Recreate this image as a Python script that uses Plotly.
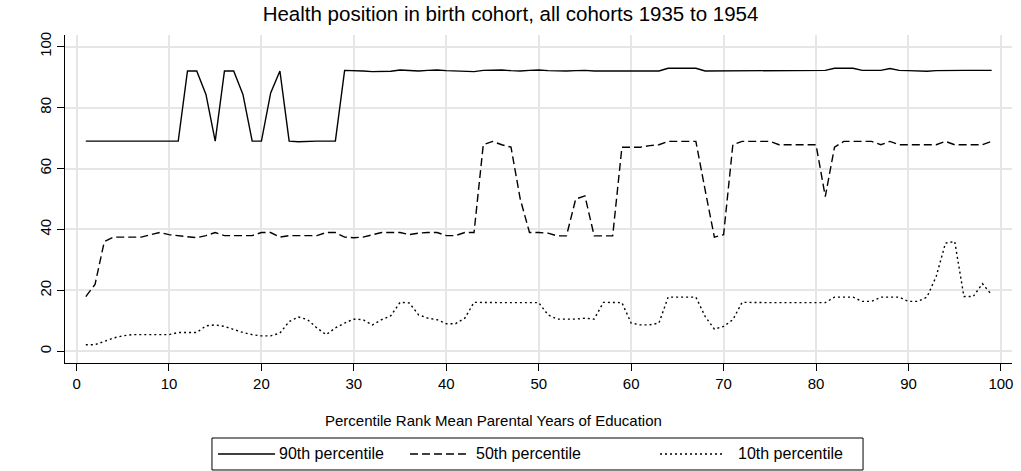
import plotly.graph_objects as go

# ---- data ----
rank = list(range(1, 100))

p90 = [69, 69, 69, 69, 69, 69, 69, 69, 69, 69,
       69, 92, 92, 84.3, 69, 92, 92, 84.3, 69, 69,
       84.8, 92, 69, 68.8, 69, 69, 69, 69, 92.2, 92.2,
       92, 91.8, 91.8, 91.9, 92.3, 92.1, 92, 92.2, 92.3, 92.1,
       92, 91.9, 91.8, 92.2, 92.3, 92.3, 92.1, 92, 92.2, 92.3,
       92.1, 92, 92, 92.1, 92.2, 92, 92, 91.9, 91.8, 91.8,
       92, 92, 92, 92.9, 92.9, 92.9, 92.9, 92, 92, 92,
       92.1, 92.2, 92.2, 92.2, 92.1, 92, 92, 92, 92, 92,
       92.2, 92.9, 92.9, 92.9, 92.2, 92.2, 92.2, 92.8, 92.2, 92.1,
       91.9, 91.9, 92.1, 92.2, 92.2, 92.2, 92.2, 92.2, 92.2]

p50 = [18, 22, 36, 37.5, 37.5, 37.5, 37.5, 38.3, 39, 38.3,
       38, 37.5, 37.3, 38, 39, 38, 38, 38, 38, 39,
       39, 37.5, 38, 38, 38, 38, 39, 39, 37.5, 37.3,
       37.5, 38.2, 39, 39, 39, 38.3, 38.8, 39, 39, 38,
       38, 39, 39, 67.8, 68.9, 67.8, 67, 50, 39, 39,
       38.8, 37.9, 37.9, 50, 51, 37.9, 37.9, 37.9, 67, 67,
       67, 67.5, 67.8, 68.9, 68.9, 68.9, 68.9, 53, 37.5, 38.3,
       67.8, 68.9, 68.9, 68.9, 68.9, 67.8, 67.8, 67.8, 67.8, 67.8,
       50.8, 67, 68.9, 68.9, 68.9, 68.9, 67.8, 68.9, 67.8, 67.8,
       67.8, 67.8, 67.8, 68.9, 67.8, 67.8, 67.8, 67.8, 68.9]

p10 = [2.2, 2.2, 3.3, 4.4, 5.1, 5.5, 5.5, 5.5, 5.5, 5.5,
       6.2, 6.2, 6.2, 8.4, 8.7, 8.2, 7.1, 6.2, 5.5, 5.1,
       5.1, 6, 9.8, 11.3, 10.4, 7.7, 5.5, 7.7, 9.3, 10.6,
       10.4, 8.7, 10.4, 11.7, 16.1, 15.9, 12, 10.9, 10.4, 9.1,
       9.1, 10.9, 16.1, 16, 16, 16, 16, 16, 16, 16,
       12, 10.6, 10.6, 10.6, 10.9, 10.6, 16.1, 16.1, 16, 9.3,
       8.7, 8.7, 9.3, 17.8, 17.8, 17.8, 17.8, 11.5, 7.3, 8.2,
       10.4, 16.1, 16, 16, 16, 16, 16, 16, 16, 16,
       16, 17.8, 17.8, 17.8, 16.4, 16.4, 17.8, 17.8, 17.8, 16.4,
       16.4, 17.8, 24.6, 35.5, 36.1, 18, 18, 22.2, 18.6]

series_names = ["90th percentile", "50th percentile", "10th percentile"]
x_ticks = [0, 10, 20, 30, 40, 50, 60, 70, 80, 90, 100]
y_ticks = [0, 20, 40, 60, 80, 100]

title_text = "Health position in birth cohort, all cohorts 1935 to 1954"
xaxis_title = "Percentile Rank Mean Parental Years of Education"

# ---- styling ----
FONT = "Liberation Sans, Arial, Helvetica, sans-serif"
dashes = ["solid", "8px,4px", "2px,3px"]
LW = 1.4

fig = go.Figure()
for name, vals, dash in zip(series_names, [p90, p50, p10], dashes):
    fig.add_trace(go.Scatter(
        x=rank, y=vals, mode="lines", name=name,
        line=dict(color="black", width=LW, dash=dash),
        showlegend=False, hoverinfo="skip",
    ))

# ---- custom legend (box, key lines, labels) in paper coordinates ----
legend_y = -0.2774
key_spans = [(0.1616, 0.2218, 0.2240), (0.3643, 0.4245, 0.4320), (0.6283, 0.6948, 0.7087)]
shapes = [dict(type="rect", xref="paper", yref="paper",
               x0=0.1552, x1=0.8427, y0=-0.3262, y1=-0.2287,
               line=dict(color="black", width=1), fillcolor="white", layer="below")]
annotations = []
for name, dash, (k0, k1, tx) in zip(series_names, dashes, key_spans):
    shapes.append(dict(type="line", xref="paper", yref="paper",
                       x0=k0, x1=k1, y0=legend_y, y1=legend_y,
                       line=dict(color="black", width=LW, dash=dash)))
    annotations.append(dict(xref="paper", yref="paper", x=tx, y=legend_y,
                            text=name, showarrow=False, xanchor="left", yanchor="middle",
                            font=dict(family=FONT, size=16, color="black")))

annotations.append(dict(xref="paper", yref="paper", x=0.452, y=-0.1738,
                        text=xaxis_title, showarrow=False, xanchor="center", yanchor="middle",
                        font=dict(family=FONT, size=15, color="black")))

fig.update_layout(
    width=1021, height=471,
    margin=dict(l=65, r=9, t=35, b=108, pad=0),
    paper_bgcolor="white", plot_bgcolor="white",
    font=dict(family=FONT, size=15, color="black"),
    title=dict(text=title_text, x=0.5, xref="container", xanchor="center",
               y=1 - 14 / 471, yref="container", yanchor="middle",
               font=dict(family=FONT, size=20.5, color="black")),
    xaxis=dict(range=[-1.25, 101.2], tickmode="array", tickvals=x_ticks,
               showgrid=True, gridcolor="#e6e6e6", gridwidth=1.5,
               zeroline=False, showline=True, linecolor="black", linewidth=1,
               ticks="outside", ticklen=7, tickcolor="black", tickwidth=1,
               tickfont=dict(family=FONT, size=15, color="black")),
    yaxis=dict(range=[-3.8, 103.8], tickmode="array", tickvals=y_ticks,
               showgrid=True, gridcolor="#e6e6e6", gridwidth=1.5,
               zeroline=False, showline=True, linecolor="black", linewidth=1,
               ticks="outside", ticklen=7, tickcolor="black", tickwidth=1,
               tickangle=-90,
               tickfont=dict(family=FONT, size=15, color="black")),
    shapes=shapes,
    annotations=annotations,
)

fig.write_html(
    "out.html",
    config={"displayModeBar": False},
    post_script="document.body.style.margin='0px';document.body.style.overflow='hidden';",
)
